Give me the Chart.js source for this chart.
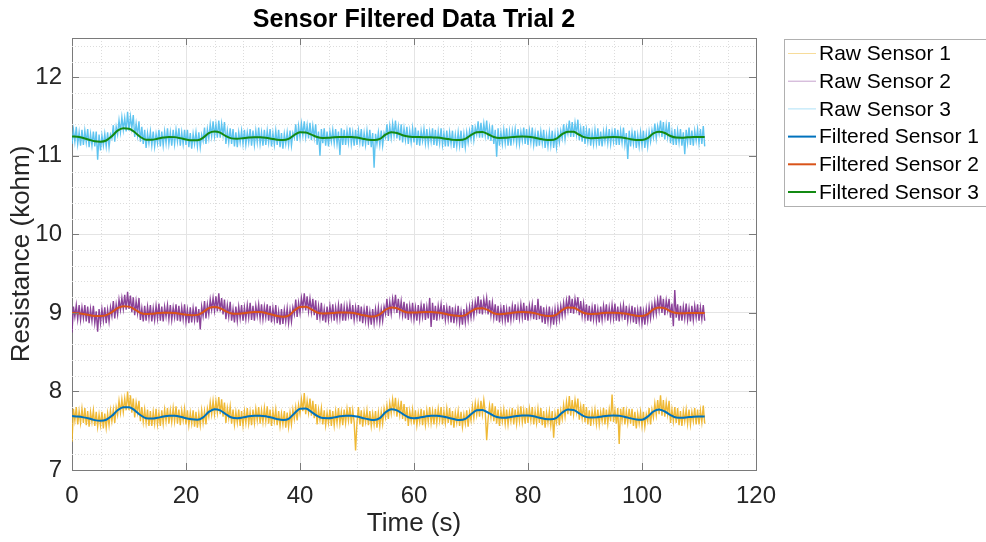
<!DOCTYPE html>
<html>
<head>
<meta charset="utf-8">
<script src="https://cdn.jsdelivr.net/npm/chart.js@4.4.0/dist/chart.umd.min.js"></script>
<style>
  html, body { margin: 0; padding: 0; background: #fff; }
  #wrap { width: 986px; height: 542px; }
</style>
</head>
<body>
<div id="wrap"><canvas id="sensor-chart" width="986" height="542"></canvas></div>
<script>
const titleText = 'Sensor Filtered Data Trial 2';
const xLabel = 'Time (s)';
const yLabel = 'Resistance (kohm)';
const seriesNames = ['Raw Sensor 1', 'Raw Sensor 2', 'Raw Sensor 3',
                     'Filtered Sensor 1', 'Filtered Sensor 2', 'Filtered Sensor 3'];
const xTicks = [0, 20, 40, 60, 80, 100, 120];
const yTicks = [7, 8, 9, 10, 11, 12];

// sample spacing in seconds
const rawStep = 0.25;
const filteredStep = 1;

// raw readings, every 0.25 s from 0 to 111 s (two seconds per line)
const rawSensor1 = [
  7.36,7.78,7.63,7.80, 7.58,7.75,7.60,7.78,
  7.60,7.79,7.57,7.75, 7.55,7.74,7.61,7.76,
  7.56,7.74,7.55,7.71, 7.57,7.74,7.53,7.72,
  7.54,7.72,7.57,7.76, 7.62,7.77,7.60,7.80,
  7.70,7.88,7.73,7.90, 7.74,7.91,7.76,8.00,
  7.76,7.95,7.73,7.91, 7.67,7.86,7.73,7.88,
  7.62,7.80,7.61,7.77, 7.60,7.77,7.56,7.75,
  7.56,7.74,7.59,7.78, 7.58,7.73,7.56,7.76,
  7.59,7.77,7.62,7.79, 7.59,7.76,7.61,7.79,
  7.62,7.81,7.59,7.77, 7.57,7.76,7.63,7.78,
  7.58,7.76,7.57,7.73, 7.59,7.76,7.55,7.74,
  7.54,7.72,7.57,7.76, 7.60,7.75,7.58,7.78,
  7.68,7.86,7.71,7.88, 7.71,7.88,7.73,7.93,
  7.71,7.90,7.68,7.86, 7.60,7.79,7.66,7.81,
  7.59,7.77,7.58,7.74, 7.60,7.77,7.56,7.75,
  7.57,7.75,7.60,7.79, 7.59,7.74,7.57,7.77,
  7.60,7.78,7.63,7.80, 7.59,7.76,7.61,7.79,
  7.62,7.81,7.59,7.77, 7.56,7.75,7.62,7.77,
  7.57,7.75,7.56,7.72, 7.58,7.75,7.54,7.73,
  7.55,7.73,7.58,7.77, 7.65,7.80,7.63,7.83,
  7.72,7.90,7.75,7.98, 7.71,7.88,7.73,7.91,
  7.69,7.88,7.66,7.84, 7.58,7.77,7.64,7.79,
  7.58,7.76,7.57,7.73, 7.60,7.77,7.56,7.75,
  7.57,7.75,7.60,7.79, 7.59,7.74,7.57,7.77,
  7.60,7.78,7.63,7.80, 7.59,7.76,7.61,7.25,
  7.61,7.80,7.58,7.76, 7.55,7.74,7.61,7.76,
  7.57,7.75,7.56,7.72, 7.58,7.75,7.54,7.73,
  7.56,7.74,7.59,7.78, 7.67,7.82,7.65,7.85,
  7.72,7.90,7.75,7.92, 7.68,7.85,7.70,7.88,
  7.65,7.84,7.62,7.80, 7.56,7.75,7.62,7.77,
  7.58,7.76,7.57,7.73, 7.61,7.78,7.57,7.76,
  7.58,7.76,7.61,7.80, 7.60,7.75,7.58,7.78,
  7.60,7.78,7.63,7.80, 7.58,7.75,7.60,7.78,
  7.60,7.79,7.57,7.75, 7.54,7.73,7.60,7.75,
  7.56,7.74,7.55,7.71, 7.59,7.76,7.55,7.74,
  7.63,7.81,7.66,7.85, 7.70,7.85,7.68,7.88,
  7.71,7.89,7.74,7.38, 7.65,7.82,7.67,7.85,
  7.62,7.81,7.59,7.77, 7.56,7.75,7.62,7.77,
  7.59,7.77,7.58,7.74, 7.62,7.79,7.58,7.77,
  7.59,7.77,7.62,7.81, 7.61,7.76,7.59,7.79,
  7.60,7.78,7.63,7.80, 7.58,7.75,7.60,7.78,
  7.60,7.79,7.57,7.75, 7.54,7.73,7.60,7.75,
  7.57,7.75,7.41,7.72, 7.61,7.78,7.57,7.76,
  7.65,7.83,7.68,7.87, 7.71,7.94,7.69,7.89,
  7.71,7.89,7.74,7.91, 7.64,7.81,7.66,7.84,
  7.61,7.80,7.58,7.76, 7.56,7.75,7.62,7.77,
  7.59,7.77,7.58,7.74, 7.62,7.79,7.58,7.77,
  7.59,7.77,7.62,7.96, 7.61,7.76,7.59,7.79,
  7.33,7.78,7.63,7.80, 7.58,7.75,7.60,7.78,
  7.59,7.78,7.56,7.74, 7.53,7.72,7.59,7.74,
  7.56,7.74,7.55,7.71, 7.62,7.79,7.58,7.77,
  7.67,7.85,7.70,7.89, 7.71,7.95,7.69,7.89,
  7.68,7.86,7.71,7.88, 7.60,7.77,7.62,7.80,
  7.60,7.79,7.57,7.75, 7.56,7.75,7.62,7.77,
  7.59,7.77,7.58,7.74, 7.62,7.79,7.58,7.77,
  7.58,7.76,7.61,7.82, 7.59
];
const rawSensor2 = [
  8.75,9.08,8.95,9.10, 8.92,9.10,8.91,9.07,
  8.93,9.10,8.89,9.08, 8.87,9.05,8.90,9.09,
  8.87,9.02,8.76,9.05, 8.87,9.05,8.90,9.07,
  8.87,9.04,8.89,9.07, 8.96,9.15,8.93,9.11,
  8.98,9.17,9.04,9.19, 9.05,9.23,9.04,9.27,
  9.05,9.22,9.01,9.20, 8.97,9.15,9.00,9.19,
  8.91,9.06,8.89,9.09, 8.90,9.08,8.93,9.10,
  8.89,9.06,8.91,9.09, 8.93,9.12,8.90,9.08,
  8.89,9.08,8.95,9.10, 8.92,9.10,8.91,9.07,
  8.94,9.11,8.90,9.09, 8.89,9.07,8.92,9.11,
  8.89,9.04,8.87,9.07, 8.88,9.06,8.91,9.08,
  8.88,9.05,8.79,9.08, 8.96,9.15,8.93,9.11,
  8.98,9.17,9.04,9.19, 9.03,9.21,9.02,9.25,
  9.02,9.19,8.98,9.17, 8.92,9.10,8.95,9.14,
  8.90,9.05,8.88,9.08, 8.90,9.08,8.93,9.10,
  8.90,9.07,8.92,9.10, 8.94,9.13,8.91,9.09,
  8.90,9.09,8.96,9.11, 8.93,9.11,8.92,9.08,
  8.94,9.11,8.90,9.09, 8.88,9.06,8.91,9.10,
  8.87,9.02,8.85,9.05, 8.86,9.04,8.89,9.06,
  8.87,9.04,8.89,9.07, 8.98,9.17,8.95,9.13,
  9.00,9.19,9.06,9.25, 9.03,9.21,9.02,9.18,
  9.01,9.18,8.97,9.16, 8.91,9.09,8.94,9.13,
  8.90,9.05,8.88,9.08, 8.91,9.09,8.94,9.11,
  8.90,9.07,8.92,9.10, 8.93,9.12,8.90,9.08,
  8.90,9.09,8.96,9.11, 8.92,9.10,8.91,9.07,
  8.93,9.10,8.89,9.08, 8.87,9.05,8.90,9.09,
  8.87,9.02,8.85,9.05, 8.87,9.05,8.90,9.07,
  8.88,9.05,8.90,9.08, 8.99,9.18,8.96,9.14,
  8.99,9.18,9.05,9.23, 9.00,9.18,8.99,9.15,
  8.97,9.14,8.93,9.12, 8.91,9.09,8.94,9.13,
  8.92,9.07,8.90,9.10, 8.92,9.10,8.95,9.12,
  8.91,9.08,8.93,9.19, 8.82,9.13,8.91,9.09,
  8.90,9.09,8.96,9.11, 8.92,9.10,8.91,9.07,
  8.92,9.09,8.88,9.07, 8.87,9.05,8.90,9.09,
  8.87,9.02,8.85,9.05, 8.88,9.06,8.91,9.08,
  8.94,9.11,8.96,9.14, 9.02,9.21,8.99,9.17,
  8.98,9.17,9.04,9.19, 8.98,9.16,8.97,9.13,
  8.94,9.11,8.90,9.09, 8.88,9.06,8.91,9.10,
  8.90,9.05,8.88,9.08, 8.91,9.09,8.94,9.11,
  8.91,9.08,8.93,9.11, 8.94,9.13,8.91,9.09,
  8.90,9.09,8.96,9.11, 8.92,9.10,8.91,9.18,
  8.92,9.09,8.88,9.07, 8.86,9.04,8.89,9.08,
  8.87,9.02,8.85,9.05, 8.89,9.07,8.92,9.09,
  8.96,9.13,8.98,9.16, 9.03,9.22,9.00,9.18,
  8.99,9.18,9.05,9.20, 8.97,9.15,8.96,9.12,
  8.94,9.11,8.90,9.09, 8.89,9.07,8.92,9.11,
  8.90,9.05,8.88,9.08, 8.91,9.09,8.94,9.11,
  8.90,9.07,8.92,9.10, 8.93,9.12,8.90,9.08,
  8.89,9.08,8.95,9.10, 8.91,9.09,8.90,9.06,
  8.92,9.09,8.88,9.07, 8.86,9.04,8.89,9.08,
  8.87,9.02,8.85,9.05, 8.90,9.08,8.93,9.10,
  8.97,9.14,8.99,9.17, 9.03,9.22,9.00,9.18,
  8.97,9.16,9.03,9.18, 8.94,9.12,8.83,9.29,
  8.94,9.11,8.90,9.09, 8.90,9.08,8.93,9.12,
  8.91,9.06,8.89,9.09, 8.91,9.09,8.94,9.11,
  8.90,9.07,8.92,9.10, 8.90
];
const rawSensor3 = [
  11.15,11.33,11.18,11.37, 11.15,11.30,11.13,11.33,
  11.14,11.32,11.17,11.34, 11.11,11.28,11.13,11.31,
  11.12,11.31,10.95,11.27, 11.07,11.26,11.13,11.28,
  11.12,11.30,11.11,11.27, 11.22,11.39,11.18,11.37,
  11.27,11.45,11.30,11.49, 11.33,11.48,11.31,11.56,
  11.32,11.50,11.35,11.52, 11.24,11.41,11.26,11.44,
  11.18,11.37,11.15,11.33, 11.10,11.29,11.16,11.31,
  11.13,11.31,11.12,11.28, 11.16,11.33,11.12,11.31,
  11.13,11.31,11.16,11.35, 11.15,11.30,11.13,11.33,
  11.15,11.33,11.18,11.35, 11.13,11.30,11.15,11.33,
  11.14,11.33,11.11,11.29, 11.09,11.28,11.15,11.30,
  11.12,11.30,11.11,11.27, 11.19,11.36,11.15,11.34,
  11.22,11.40,11.25,11.44, 11.25,11.40,11.23,11.45,
  11.23,11.41,11.26,11.43, 11.15,11.32,11.17,11.35,
  11.15,11.34,11.12,11.30, 11.11,11.30,11.17,11.32,
  11.15,11.33,11.14,11.30, 11.17,11.34,11.13,11.32,
  11.14,11.32,11.17,11.36, 11.15,11.30,11.13,11.33,
  11.14,11.32,11.17,11.34, 11.12,11.29,11.14,11.32,
  11.14,11.33,11.11,11.29, 11.09,11.28,11.15,11.30,
  11.14,11.32,11.13,11.29, 11.23,11.40,11.19,11.38,
  11.23,11.41,11.26,11.44, 11.24,11.39,11.22,11.42,
  11.20,11.38,11.23,11.40, 11.14,11.31,11.00,11.34,
  11.16,11.35,11.13,11.31, 11.12,11.31,11.18,11.33,
  11.16,11.34,11.15,11.31, 11.01,11.35,11.14,11.33,
  11.14,11.32,11.17,11.36, 11.15,11.30,11.13,11.33,
  11.14,11.32,11.17,11.34, 11.12,11.29,11.14,11.32,
  11.14,11.33,11.11,11.29, 10.85,11.28,11.15,11.30,
  11.14,11.32,11.13,11.29, 11.23,11.40,11.19,11.38,
  11.23,11.41,11.26,11.45, 11.22,11.37,11.20,11.40,
  11.17,11.35,11.20,11.37, 11.15,11.32,11.17,11.35,
  11.17,11.36,11.14,11.32, 11.13,11.32,11.19,11.34,
  11.16,11.34,11.15,11.31, 11.18,11.35,11.14,11.33,
  11.13,11.31,11.16,11.35, 11.14,11.29,11.12,11.32,
  11.12,11.30,11.15,11.32, 11.10,11.27,11.12,11.30,
  11.13,11.32,11.10,11.28, 11.11,11.30,11.17,11.32,
  11.21,11.39,11.20,11.36, 11.27,11.44,11.23,11.42,
  11.23,11.41,11.26,11.45, 11.21,11.36,11.19,11.39,
  11.15,11.33,10.99,11.35, 11.13,11.30,11.15,11.33,
  11.16,11.35,11.13,11.31, 11.13,11.32,11.19,11.34,
  11.16,11.34,11.15,11.31, 11.19,11.36,11.15,11.34,
  11.14,11.32,11.17,11.36, 11.14,11.29,11.12,11.32,
  11.13,11.31,11.16,11.33, 11.10,11.27,11.12,11.30,
  11.13,11.32,11.10,11.28, 11.11,11.30,11.17,11.32,
  11.22,11.40,11.21,11.37, 11.28,11.45,11.24,11.43,
  11.24,11.42,11.27,11.46, 11.20,11.35,11.18,11.38,
  11.15,11.33,11.18,11.35, 11.13,11.30,11.15,11.33,
  11.16,11.35,11.13,11.31, 11.12,11.31,11.18,11.33,
  11.16,11.34,11.15,11.31, 11.18,11.35,11.14,11.33,
  11.14,11.32,11.17,11.36, 11.14,11.29,10.96,11.32,
  11.12,11.30,11.15,11.32, 11.10,11.27,11.12,11.30,
  11.13,11.32,11.10,11.28, 11.12,11.31,11.18,11.33,
  11.23,11.41,11.22,11.38, 11.28,11.45,11.24,11.43,
  11.21,11.39,11.24,11.43, 11.16,11.31,11.14,11.34,
  11.14,11.32,11.17,11.34, 11.13,11.30,11.02,11.33,
  11.17,11.36,11.14,11.32, 11.13,11.32,11.19,11.34,
  11.16,11.34,11.15,11.38, 11.12
];

// filtered readings, every 1 s from 0 to 111 s
const filteredSensor1 = [
  7.686,7.680,7.670,7.655,7.635,7.627,7.640,7.690,7.760,7.800,
  7.800,7.760,7.700,7.660,7.655,7.665,7.680,7.692,7.690,7.678,
  7.660,7.645,7.640,7.670,7.740,7.775,7.760,7.710,7.668,7.660,
  7.670,7.683,7.690,7.692,7.685,7.668,7.648,7.636,7.650,7.720,
  7.780,7.782,7.740,7.690,7.662,7.660,7.670,7.683,7.690,7.690,
  7.680,7.662,7.645,7.635,7.660,7.735,7.775,7.760,7.715,7.672,
  7.660,7.668,7.682,7.690,7.690,7.682,7.665,7.648,7.636,7.650,
  7.710,7.760,7.765,7.730,7.690,7.668,7.665,7.675,7.688,7.695,
  7.693,7.683,7.665,7.650,7.645,7.665,7.730,7.770,7.765,7.720,
  7.680,7.668,7.670,7.682,7.692,7.695,7.690,7.676,7.658,7.643,
  7.640,7.680,7.745,7.770,7.745,7.700,7.668,7.665,7.672,7.678,
  7.680,7.680
];
const filteredSensor2 = [
  9.000,8.995,8.985,8.972,8.962,8.960,8.972,9.010,9.060,9.085,
  9.080,9.045,9.000,8.985,8.990,8.998,9.002,9.003,8.998,8.988,
  8.976,8.970,8.975,9.010,9.060,9.075,9.060,9.020,8.992,8.988,
  8.996,9.005,9.010,9.010,9.000,8.980,8.960,8.950,8.965,9.030,
  9.075,9.078,9.045,9.005,8.993,8.995,9.000,9.004,9.005,9.002,
  8.990,8.972,8.958,8.955,8.980,9.040,9.070,9.060,9.025,9.005,
  9.005,9.008,9.010,9.010,9.005,8.995,8.980,8.966,8.960,8.972,
  9.020,9.055,9.060,9.035,8.995,8.982,8.988,9.000,9.008,9.010,
  9.008,8.998,8.980,8.964,8.960,8.978,9.035,9.068,9.066,9.030,
  8.995,8.985,8.990,8.998,9.002,9.002,9.000,8.992,8.978,8.963,
  8.960,8.985,9.045,9.070,9.058,9.020,8.998,8.995,8.998,9.000,
  9.000,9.000
];
const filteredSensor3 = [
  11.245,11.242,11.228,11.205,11.185,11.180,11.195,11.250,11.320,11.350,
  11.345,11.300,11.240,11.205,11.205,11.218,11.232,11.240,11.238,11.225,
  11.208,11.197,11.198,11.230,11.290,11.310,11.295,11.250,11.222,11.218,
  11.225,11.232,11.236,11.236,11.230,11.218,11.205,11.200,11.215,11.265,
  11.300,11.298,11.270,11.240,11.228,11.230,11.236,11.240,11.241,11.240,
  11.232,11.218,11.205,11.200,11.215,11.270,11.300,11.290,11.262,11.245,
  11.240,11.238,11.237,11.236,11.232,11.225,11.213,11.203,11.200,11.215,
  11.265,11.300,11.303,11.275,11.240,11.228,11.230,11.238,11.244,11.246,
  11.244,11.234,11.218,11.204,11.200,11.218,11.275,11.308,11.305,11.268,
  11.235,11.225,11.226,11.232,11.236,11.238,11.235,11.226,11.212,11.202,
  11.200,11.225,11.285,11.305,11.290,11.252,11.232,11.230,11.235,11.238,
  11.240,11.240
];

const rawColors = ['rgba(237,177,32,0.9)', 'rgba(126,47,142,0.9)', 'rgba(77,190,238,0.9)'];
const filteredColors = ['#0072BD', '#D95319', '#138a13'];
const fontFamily = "'Liberation Sans', Arial, Helvetica, sans-serif";

function toPoints(values, step) {
  return values.map((v, i) => ({ x: i * step, y: v }));
}

const rawSeries = [rawSensor1, rawSensor2, rawSensor3];
const filteredSeries = [filteredSensor1, filteredSensor2, filteredSensor3];

const datasets = [];
rawSeries.forEach((vals, i) => datasets.push({
  label: seriesNames[i],
  data: toPoints(vals, rawStep),
  borderColor: rawColors[i],
  borderWidth: 1.4,
  pointRadius: 0,
  tension: 0,
  order: 1
}));
filteredSeries.forEach((vals, i) => datasets.push({
  label: seriesNames[i + 3],
  data: toPoints(vals, filteredStep),
  borderColor: filteredColors[i],
  borderWidth: 2,
  pointRadius: 0,
  cubicInterpolationMode: 'monotone',
  order: 0
}));

// matlab look: minor grid, box with inward ticks, title and legend
const matlabAxes = {
  id: 'matlabAxes',
  beforeDatasetsDraw(chart) {
    const { ctx, chartArea: a, scales: { x, y } } = chart;
    ctx.save();
    ctx.strokeStyle = '#dcdcdc';
    ctx.lineWidth = 1;
    ctx.setLineDash([1, 2]);
    for (let k = 0; k <= 24; k++) {
      if (k % 4 === 0) continue;
      const px = Math.round(x.getPixelForValue(k * 5)) + 0.5;
      ctx.beginPath(); ctx.moveTo(px, a.top); ctx.lineTo(px, a.bottom); ctx.stroke();
    }
    for (let k = 0; k <= 27; k++) {
      if (k % 5 === 0) continue;
      const py = Math.round(y.getPixelForValue(7 + k * 0.2)) + 0.5;
      ctx.beginPath(); ctx.moveTo(a.left, py); ctx.lineTo(a.right, py); ctx.stroke();
    }
    ctx.restore();
  },
  afterDraw(chart) {
    const { ctx, chartArea: a, scales: { x, y } } = chart;
    ctx.save();
    ctx.strokeStyle = '#7a7a7a';
    ctx.lineWidth = 1;
    ctx.beginPath();
    ctx.moveTo(a.left, a.top + 0.5); ctx.lineTo(a.right + 0.5, a.top + 0.5);
    ctx.lineTo(a.right + 0.5, a.bottom);
    ctx.stroke();
    const tl = 7;
    xTicks.forEach(v => {
      const px = Math.round(x.getPixelForValue(v)) + 0.5;
      ctx.beginPath();
      ctx.moveTo(px, a.bottom); ctx.lineTo(px, a.bottom - tl);
      ctx.moveTo(px, a.top); ctx.lineTo(px, a.top + tl);
      ctx.stroke();
    });
    yTicks.forEach(v => {
      const py = Math.round(y.getPixelForValue(v)) + 0.5;
      ctx.beginPath();
      ctx.moveTo(a.left, py); ctx.lineTo(a.left + tl, py);
      ctx.moveTo(a.right, py); ctx.lineTo(a.right - tl, py);
      ctx.stroke();
    });

    // title
    ctx.fillStyle = '#000';
    ctx.font = 'bold 25px ' + fontFamily;
    ctx.textAlign = 'center';
    ctx.textBaseline = 'middle';
    ctx.fillText(titleText, (a.left + a.right) / 2, 20);

    // legend
    const lx = 784.5, ly = 39.5;
    ctx.fillStyle = '#fff';
    ctx.fillRect(lx, ly, 204, 167);
    ctx.strokeStyle = '#b0b0b0';
    ctx.strokeRect(lx, ly, 204, 167);
    ctx.font = '21px ' + fontFamily;
    ctx.textAlign = 'left';
    chart.data.datasets.forEach((ds, i) => {
      const ry = 53.5 + i * 27.7;
      ctx.strokeStyle = ds.borderColor;
      ctx.globalAlpha = i < 3 ? 0.5 : 1;
      ctx.lineWidth = i < 3 ? 1 : ds.borderWidth;
      ctx.beginPath(); ctx.moveTo(788, ry); ctx.lineTo(816, ry); ctx.stroke();
      ctx.globalAlpha = 1;
      ctx.fillStyle = '#000';
      ctx.fillText(ds.label, 819, ry + 1);
    });
    ctx.restore();
  }
};

new Chart(document.getElementById('sensor-chart'), {
  type: 'line',
  data: { datasets },
  options: {
    responsive: false,
    animation: false,
    devicePixelRatio: 1,
    layout: { padding: { left: 0, top: 38, right: 230, bottom: 0 } },
    plugins: { legend: { display: false }, tooltip: { enabled: false } },
    scales: {
      x: {
        type: 'linear',
        min: 0, max: 120,
        afterBuildTicks: s => { s.ticks = xTicks.map(v => ({ value: v })); },
        afterFit: s => { s.height = 72; },
        ticks: { color: '#262626', font: { size: 24, family: fontFamily }, padding: 12, maxRotation: 0 },
        grid: { color: '#e4e4e4', drawTicks: false },
        border: { color: '#7a7a7a' },
        title: { display: true, text: xLabel, color: '#262626', font: { size: 26, family: fontFamily }, padding: { top: 0, bottom: 3 } }
      },
      y: {
        min: 7, max: 12.5,
        afterBuildTicks: s => { s.ticks = yTicks.map(v => ({ value: v })); },
        afterFit: s => { s.width = 72; },
        ticks: { color: '#262626', font: { size: 24, family: fontFamily }, padding: 10 },
        grid: { color: '#e4e4e4', drawTicks: false },
        border: { color: '#7a7a7a' },
        title: { display: true, text: yLabel, color: '#262626', font: { size: 26, family: fontFamily }, padding: { top: 6, bottom: 0 } }
      }
    }
  },
  plugins: [matlabAxes]
});
</script>
</body>
</html>
